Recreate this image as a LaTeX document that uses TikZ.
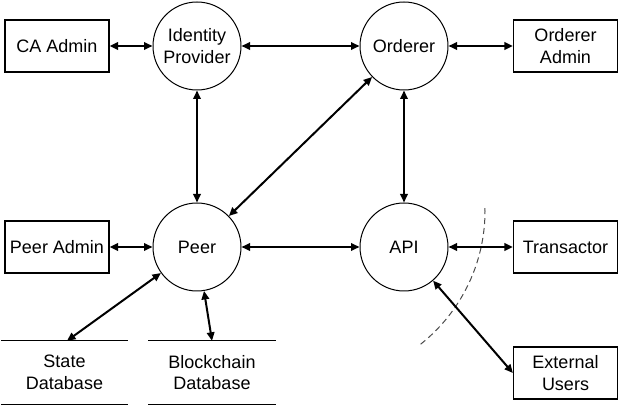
\documentclass[tikz,border=0pt]{standalone}
\usepackage{fontspec}
\setmainfont{Liberation Sans}
\usetikzlibrary{arrows.meta}
\begin{document}
\begin{tikzpicture}[x=1pt,y=-1pt,
  font=\fontsize{18}{21.5}\selectfont,
  box/.style={draw, line width=1.2pt, minimum width=104pt, minimum height=52pt, inner sep=0pt, align=center},
  proc/.style={draw, circle, line width=1pt, minimum size=88pt, inner sep=0pt, align=center},
  store/.style={minimum width=127pt, minimum height=63pt, inner sep=0pt, align=center},
  storeline/.style={line width=1.2pt},
  link/.style={line width=2pt, {Triangle[length=8.5pt,width=7.5pt]}-{Triangle[length=8.5pt,width=7.5pt]}},
  boundary/.style={line width=1pt, draw=black!70, dash pattern=on 6pt off 4pt}]
\useasboundingbox (0,0) rectangle (624,411);
% processes
\node[proc] (idp) at (197,46) {Identity\\Provider};
\node[proc] (ord) at (404,46) {Orderer};
\node[proc] (peer) at (197,247) {Peer};
\node[proc] (api) at (404,247) {API};
% external entities
\node[box] (ca) at (57,46) {CA Admin};
\node[box] (oa) at (565.5,46) {Orderer\\Admin};
\node[box] (pa) at (57,247) {Peer Admin};
\node[box] (tr) at (565.5,247) {Transactor};
\node[box] (ext) at (565.5,373) {External\\Users};
% data stores
\node[store] (sdb) at (64.5,372.5) {State\\Database};
\node[store] (bdb) at (212,372.5) {Blockchain\\Database};
\draw[storeline] (sdb.north west) -- (sdb.north east);
\draw[storeline] (sdb.south west) -- (sdb.south east);
\draw[storeline] (bdb.north west) -- (bdb.north east);
\draw[storeline] (bdb.south west) -- (bdb.south east);
% trust boundary
\draw[boundary] plot[domain=-1:52, samples=50] ({315+170*cos(\x)},{211+170*sin(\x)});
% flows
\draw[link] (ca) -- (idp);
\draw[link] (idp) -- (ord);
\draw[link] (ord) -- (oa);
\draw[link] (idp) -- (peer);
\draw[link] (ord) -- (api);
\draw[link] (peer) -- (ord);
\draw[link] (pa) -- (peer);
\draw[link] (peer) -- (api);
\draw[link] (api) -- (tr);
\draw[link] (api) -- (ext.west);
\draw[link] (peer) -- ([xshift=2.5pt]sdb.north);
\draw[link] (peer) -- (bdb.north);
\end{tikzpicture}
\end{document}
